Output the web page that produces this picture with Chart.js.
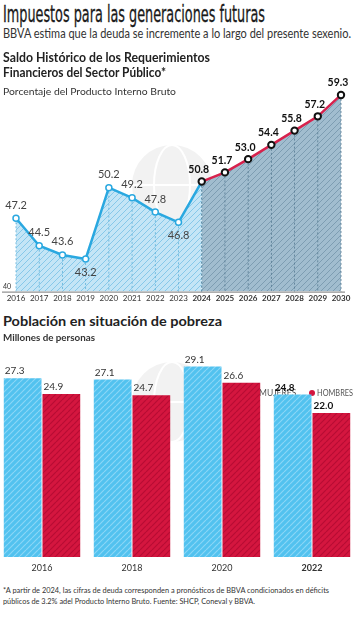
<!DOCTYPE html>
<html>
<head>
<meta charset="utf-8">
<script src="https://cdn.jsdelivr.net/npm/chart.js@4.4.1/dist/chart.umd.min.js"></script>
<style>
  body { margin: 0; background: #fff; width: 354px; height: 620px; overflow: hidden; position: relative; font-family: Lato, sans-serif; color: #222; }
  .t { position: absolute; left: 3px; white-space: nowrap; transform-origin: left top; line-height: 1; }
  canvas { position: absolute; }
</style>
</head>
<body>
<canvas id="deuda" style="left:0;top:60px;width:354px;height:250px;" width="354" height="250"></canvas>
<canvas id="pobreza" style="left:-4px;top:340px;width:362px;height:235px;" width="362" height="235"></canvas>

<div class="t" data-w="262" style="top:3px;font-family:'DejaVu Sans Condensed','DejaVu Sans';font-size:23px;color:#1a1a1a;-webkit-text-stroke:0.3px #1a1a1a;">Impuestos para las generaciones futuras</div>
<div class="t" data-w="348" style="top:28px;font-size:12.5px;color:#333;">BBVA estima que la deuda se incremente a lo largo del presente sexenio.</div>
<div class="t" data-w="207" style="top:51px;font-size:13px;font-weight:bold;">Saldo Histórico de los Requerimientos</div>
<div class="t" data-w="163" style="top:66px;font-size:13px;font-weight:bold;">Financieros del Sector Público*</div>
<div class="t" data-w="173" style="top:87px;font-size:9.5px;color:#333;">Porcentaje del Producto Interno Bruto</div>
<div class="t" data-w="219" style="top:315px;font-size:13.5px;font-weight:bold;">Población en situación de pobreza</div>
<div class="t" data-w="92" style="top:333px;font-size:9.5px;font-weight:bold;color:#333;">Millones de personas</div>
<div class="t" data-w="326" style="top:586px;font-size:8px;color:#333;">*A partir de 2024, las cifras de deuda corresponden a pronósticos de BBVA condicionados en déficits</div>
<div class="t" data-w="252" style="top:597px;font-size:8px;color:#333;">públicos de 3.2% adel Producto Interno Bruto. Fuente: SHCP, Coneval y BBVA.</div>

<script>
// ---- datos ----
var years = ['2016', '2017', '2018', '2019', '2020', '2021', '2022', '2023', '2024', '2025', '2026', '2027', '2028', '2029', '2030'];
var historico = [47.2, 44.5, 43.6, 43.2, 50.2, 49.2, 47.8, 46.8, 50.8];
var pronostico = [50.8, 51.7, 53.0, 54.4, 55.8, 57.2, 59.3];

var anios = ['2016', '2018', '2020', '2022'];
var mujeres = [27.3, 27.1, 29.1, 24.8];
var hombres = [24.9, 24.7, 26.6, 22.0];

// fit header texts to their widths
document.querySelectorAll('.t').forEach(function (el) {
    var w = el.getBoundingClientRect().width;
    el.style.transform = 'scaleX(' + (el.dataset.w / w) + ')';
});

const hatch = (bg, line, size, lw) => {
    var c = document.createElement('canvas');
    c.width = c.height = size;
    var x = c.getContext('2d');
    x.fillStyle = bg;
    x.fillRect(0, 0, size, size);
    x.strokeStyle = line;
    x.lineWidth = lw;
    x.beginPath();
    for (var k = -1; k <= 1; k++) {
        x.moveTo(k * size, size);
        x.lineTo(k * size + size, 0);
    }
    x.stroke();
    return x.createPattern(c, 'repeat');
};

const globe = (ctx, cx, cy, r) => {
    ctx.save();
    ctx.fillStyle = '#f2f2f2';
    ctx.beginPath();
    ctx.arc(cx, cy, r, 0, Math.PI * 2);
    ctx.fill();
    ctx.strokeStyle = '#fff';
    ctx.lineWidth = 2;
    ctx.beginPath();
    ctx.ellipse(cx, cy, r * 0.45, r, 0, 0, Math.PI * 2);
    ctx.moveTo(cx - r, cy);
    ctx.lineTo(cx + r, cy);
    ctx.stroke();
    ctx.restore();
};

var nHist = historico.length;
var histData = years.map((y, i) => i < nHist ? historico[i] : null);
var fcData = years.map((y, i) => i >= nHist - 1 ? pronostico[i - nHist + 1] : null);

var deudaPlugin = {
    id: 'deudaPlugin',
    beforeDraw: function (chart) {
        globe(chart.ctx, 172, 125, 40);
    },
    beforeDatasetsDraw: function (chart) {
        var ctx = chart.ctx;
        var yb = chart.scales.y.getPixelForValue(40);
        ctx.save();
        ctx.lineWidth = 0.8;
        ctx.setLineDash([2, 2]);
        chart.data.datasets.forEach(function (ds, d) {
            chart.getDatasetMeta(d).data.forEach(function (p, i) {
                if (ds.data[i] == null) return;
                ctx.strokeStyle = d === 0 ? '#5fb2da' : '#557a91';
                ctx.beginPath();
                ctx.moveTo(p.x, p.y);
                ctx.lineTo(p.x, yb);
                ctx.stroke();
            });
        });
        ctx.restore();
    },
    afterDatasetsDraw: function (chart) {
        var ctx = chart.ctx;
        var x = chart.scales.x, y = chart.scales.y;
        var yb = y.getPixelForValue(40);
        ctx.save();
        // baseline
        ctx.strokeStyle = '#777';
        ctx.lineWidth = 1;
        ctx.beginPath();
        ctx.moveTo(2, yb + 0.5);
        ctx.lineTo(345, yb + 0.5);
        ctx.stroke();
        ctx.fillStyle = '#333';
        ctx.font = '7px Lato';
        ctx.textAlign = 'left';
        ctx.textBaseline = 'bottom';
        ctx.fillText('40', 3, yb - 1);
        // year labels
        ctx.textAlign = 'center';
        ctx.textBaseline = 'middle';
        years.forEach(function (yr, i) {
            ctx.font = (i >= nHist - 1 ? 'bold ' : '') + '8px Lato';
            ctx.fillText(yr, x.getPixelForValue(i), yb + 7);
        });
        // value labels
        var m0 = chart.getDatasetMeta(0).data;
        ctx.font = '11px Lato';
        ctx.fillStyle = '#444';
        historico.forEach(function (v, i) {
            if (i === nHist - 1) return;
            var p = m0[i];
            var below = (i === 3 || i === 7);
            ctx.fillText(v.toFixed(1), p.x, below ? p.y + 13 : p.y - 13);
        });
        var m1 = chart.getDatasetMeta(1).data;
        ctx.font = 'bold 10.5px Lato';
        ctx.fillStyle = '#111';
        pronostico.forEach(function (v, i) {
            var p = m1[i + nHist - 1];
            ctx.fillText(v.toFixed(1), p.x - 3, p.y - 12);
        });
        ctx.restore();
    }
};

new Chart(document.getElementById('deuda'), {
    type: 'line',
    data: {
        labels: years,
        datasets: [{
            data: histData,
            borderColor: '#2aa8e0',
            borderWidth: 2.5,
            backgroundColor: hatch('#c4e5f6', '#86c8e9', 6, 1),
            fill: 'start',
            tension: 0,
            pointRadius: years.map((y, i) => i < nHist - 1 ? 3 : 0),
            pointBackgroundColor: '#fff',
            pointBorderColor: '#2aa8e0',
            pointBorderWidth: 1.5,
            order: 2
        }, {
            data: fcData,
            borderColor: '#d7224d',
            borderWidth: 2.5,
            backgroundColor: hatch('#a1bdcf', '#7d9db2', 6, 1),
            fill: 'start',
            tension: 0,
            pointRadius: 3.2,
            pointBackgroundColor: '#fff',
            pointBorderColor: '#111',
            pointBorderWidth: 2,
            order: 1
        }]
    },
    options: {
        responsive: false,
        animation: false,
        layout: { padding: { top: 27.8, bottom: 18.4, left: 16, right: 13 } },
        scales: {
            x: { display: false, offset: false },
            y: { display: false, min: 40, max: 60 }
        },
        plugins: {
            legend: { display: false },
            tooltip: { enabled: false },
            filler: { drawTime: 'beforeDatasetsDraw' }
        }
    },
    plugins: [deudaPlugin]
});

var pobrezaPlugin = {
    id: 'pobrezaPlugin',
    beforeDraw: function (chart) {
        globe(chart.ctx, 176, 62, 40);
    },
    beforeDatasetsDraw: function (chart) {
        var ctx = chart.ctx;
        ctx.save();
        ctx.font = '8.5px Lato';
        ctx.textBaseline = 'middle';
        ctx.textAlign = 'left';
        ctx.fillStyle = '#4fc0ee';
        ctx.beginPath();
        ctx.arc(257, 53, 3, 0, Math.PI * 2);
        ctx.fill();
        ctx.fillStyle = '#555';
        ctx.fillText('MUJERES', 263, 53, 38);
        ctx.fillStyle = '#d3163f';
        ctx.beginPath();
        ctx.arc(316, 53, 3, 0, Math.PI * 2);
        ctx.fill();
        ctx.fillStyle = '#555';
        ctx.fillText('HOMBRES', 321, 53, 36);
        ctx.restore();
    },
    afterDatasetsDraw: function (chart) {
        var ctx = chart.ctx;
        var x = chart.scales.x;
        var yb = chart.scales.y.getPixelForValue(0);
        ctx.save();
        ctx.textBaseline = 'middle';
        ctx.textAlign = 'center';
        ctx.fillStyle = '#333';
        anios.forEach(function (a, i) {
            ctx.font = (i === anios.length - 1 ? 'bold ' : '') + '9px Lato';
            ctx.fillText(a, x.getPixelForValue(i), yb + 11);
        });
        ctx.textBaseline = 'bottom';
        ctx.textAlign = 'left';
        chart.data.datasets.forEach(function (ds, d) {
            chart.getDatasetMeta(d).data.forEach(function (b, i) {
                ctx.font = (i === anios.length - 1 ? 'bold ' : '') + '10px Lato';
                ctx.fillStyle = i === anios.length - 1 ? '#111' : '#333';
                ctx.fillText(ds.data[i].toFixed(1), b.x - b.width / 2 + 1, b.y - 2);
            });
        });
        ctx.restore();
    }
};

new Chart(document.getElementById('pobreza'), {
    type: 'bar',
    data: {
        labels: anios,
        datasets: [{
            label: 'MUJERES',
            data: mujeres,
            backgroundColor: hatch('#52c2ef', '#8ad6f6', 6, 1.2)
        }, {
            label: 'HOMBRES',
            data: hombres,
            backgroundColor: hatch('#d4163f', '#b70d34', 6, 1.2)
        }]
    },
    options: {
        responsive: false,
        animation: false,
        layout: { padding: { top: 20.5, bottom: 18, left: 1, right: 1 } },
        datasets: { bar: { categoryPercentage: 0.86, barPercentage: 0.975 } },
        scales: {
            x: { display: false },
            y: { display: false, min: 0, max: 30 }
        },
        plugins: {
            legend: { display: false },
            tooltip: { enabled: false }
        }
    },
    plugins: [pobrezaPlugin]
});
</script>
</body>
</html>
